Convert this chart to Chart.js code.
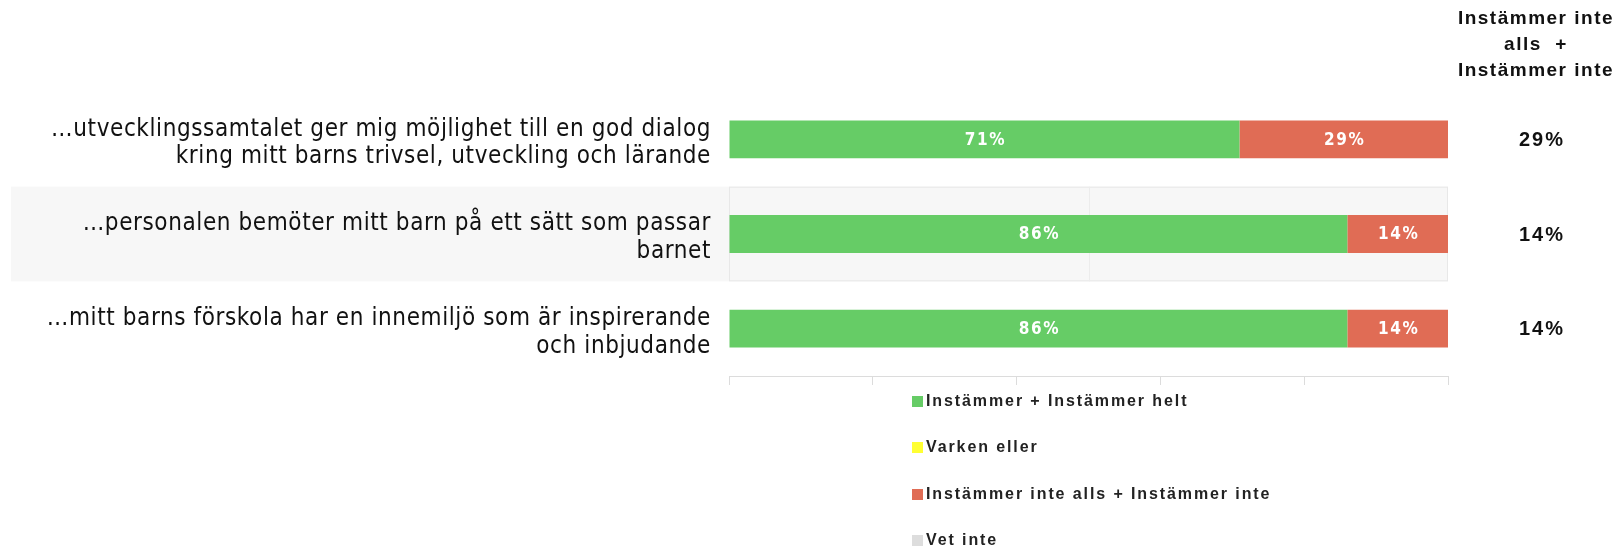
<!DOCTYPE html>
<html lang="sv">
<head>
  <meta charset="UTF-8">
  <title>Instämmer</title>
  <style>
    body {
      margin: 0;
      background-color: white;
      font-family: 'Liberation Sans', Arial, sans-serif;
    }
    .wrap {
      position: relative;
      width: 1617px;
      height: 547px;
    }
    .header {
      position: absolute;
      left: 1450px;
      top: 5px;
      width: 172px;
      text-align: center;
      font-weight: bold;
      font-size: 19px;
      line-height: 26px;
      letter-spacing: 1.5px;
      color: #111;
      white-space: pre;
    }
    .legend {
      position: absolute;
      left: 912px;
      top: 392px;
    }
    .legend-item {
      height: 46.3px;
      font-weight: bold;
      font-size: 16px;
      letter-spacing: 1.9px;
      color: #222;
    }
    .legend-item span.box {
      display: inline-block;
      width: 11px;
      height: 11px;
      margin-right: 3px;
      vertical-align: -1px;
    }
  </style>
  <script src="https://cdn.jsdelivr.net/npm/chart.js"></script>
</head>
<body>
  <div class="wrap">
    <canvas id="chart" width="1617" height="547"></canvas>
    <div class="header">Instämmer inte
alls  +
Instämmer inte</div>
    <div class="legend" id="legend"></div>
  </div>

  <script>
    const categories = [
      ['…utvecklingssamtalet ger mig möjlighet till en god dialog', 'kring mitt barns trivsel, utveckling och lärande'],
      ['…personalen bemöter mitt barn på ett sätt som passar', 'barnet'],
      ['…mitt barns förskola har en innemiljö som är inspirerande', 'och inbjudande']
    ];
    const agree = [71, 86, 86];
    const neither = [0, 0, 0];
    const disagree = [29, 14, 14];
    const dontKnow = [0, 0, 0];
    const seriesNames = ['Instämmer + Instämmer helt', 'Varken eller', 'Instämmer inte alls + Instämmer inte', 'Vet inte'];
    const seriesColors = ['#66cc66', '#ffff33', '#e06c55', '#dddddd'];

    const condensed = "'Liberation Sans Narrow', 'DejaVu Sans Condensed', sans-serif";

    // grey band behind the middle row + its grid lines
    const bandPlugin = {
      id: 'band',
      beforeDraw(chart) {
        const { ctx, chartArea } = chart;
        const y = chart.scales.y;
        const x = chart.scales.x;
        const half = (y.getPixelForValue(1) - y.getPixelForValue(0)) / 2;
        const top = y.getPixelForValue(1) - half;
        const h = half * 2;
        ctx.save();
        ctx.fillStyle = '#f7f7f7';
        ctx.fillRect(11, top, chartArea.right - 11, h);
        ctx.strokeStyle = '#e8e8e8';
        ctx.lineWidth = 1;
        ctx.strokeRect(chartArea.left + 0.5, top + 0.5, chartArea.right - chartArea.left - 1, h - 1);
        ctx.strokeStyle = '#ececec';
        ctx.beginPath();
        const mid = Math.round(x.getPixelForValue(50)) + 0.5;
        ctx.moveTo(mid, top);
        ctx.lineTo(mid, top + h);
        ctx.stroke();
        ctx.restore();
        ctx.letterSpacing = '0.6px';
      }
    };

    // percentage labels inside bars and totals on the right
    const labelPlugin = {
      id: 'labels',
      afterDatasetsDraw(chart) {
        const { ctx, chartArea } = chart;
        ctx.save();
        ctx.textAlign = 'center';
        ctx.textBaseline = 'middle';
        ctx.letterSpacing = '1.6px';
        ctx.font = 'bold 17px ' + condensed;
        ctx.fillStyle = '#ffffff';
        chart.data.datasets.forEach((ds, di) => {
          chart.getDatasetMeta(di).data.forEach((bar, i) => {
            const v = ds.data[i];
            if (!v) return;
            ctx.fillText(v + '%', bar.x - (bar.x - bar.base) / 2 + 1, bar.y + 1);
          });
        });
        ctx.fillStyle = '#111';
        ctx.font = 'bold 20px "Liberation Sans", Arial, sans-serif';
        ctx.letterSpacing = '2px';
        disagree.forEach((v, i) => {
          ctx.fillText(v + '%', chartArea.right + 94, chart.scales.y.getPixelForValue(i) + 1);
        });
        ctx.restore();
      }
    };

    const ctx = document.getElementById('chart').getContext('2d');
    const chart = new Chart(ctx, {
      type: 'bar',
      data: {
        labels: categories,
        datasets: [
          { label: seriesNames[0], data: agree, backgroundColor: seriesColors[0] },
          { label: seriesNames[1], data: neither, backgroundColor: seriesColors[1] },
          { label: seriesNames[2], data: disagree, backgroundColor: seriesColors[2] },
          { label: seriesNames[3], data: dontKnow, backgroundColor: seriesColors[3] }
        ]
      },
      options: {
        indexAxis: 'y',
        responsive: false,
        animation: false,
        datasets: {
          bar: { barPercentage: 0.4, categoryPercentage: 1, borderWidth: 0 }
        },
        layout: {
          padding: { left: 0, right: 169, top: 92, bottom: 161 }
        },
        scales: {
          x: {
            stacked: true,
            min: 0,
            max: 100,
            ticks: { display: false, stepSize: 20 },
            grid: { drawOnChartArea: false, drawTicks: true, tickLength: 9, color: '#dcdcdc' },
            border: { color: '#dcdcdc' },
            afterFit(s) { s.height = 10; }
          },
          y: {
            stacked: true,
            grid: { display: false, drawTicks: false },
            border: { display: false },
            ticks: {
              padding: 18,
              labelOffset: 4,
              color: '#111',
              font: { family: condensed, size: 24, weight: 'normal', lineHeight: 1.16 }
            },
            afterFit(s) { s.width = 729; }
          }
        },
        plugins: {
          legend: { display: false },
          tooltip: { enabled: false }
        }
      },
      plugins: [bandPlugin, labelPlugin]
    });

    // legend in one column, from the datasets
    const legendEl = document.getElementById('legend');
    chart.data.datasets.forEach(ds => {
      const item = document.createElement('div');
      item.className = 'legend-item';
      item.innerHTML = '<span class="box" style="background:' + ds.backgroundColor + '"></span>' + ds.label;
      legendEl.appendChild(item);
    });
  </script>
</body>
</html>
